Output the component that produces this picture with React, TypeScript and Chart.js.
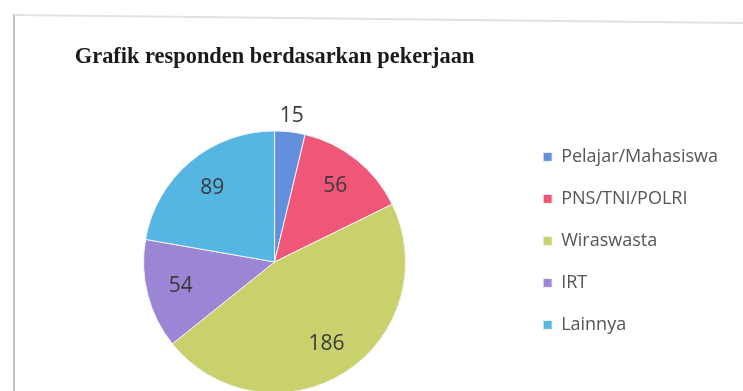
import React, { useEffect, useRef } from "react";
import { Chart, registerables } from "chart.js";

Chart.register(...registerables);

const titleText = "Grafik responden berdasarkan pekerjaan";
const categories = ["Pelajar/Mahasiswa", "PNS/TNI/POLRI", "Wiraswasta", "IRT", "Lainnya"];
const counts = [15, 56, 186, 54, 89];
const sliceColors = ["#6390dc", "#f05677", "#c8d16b", "#9b86d6", "#55b6e3"];

const framePlugin = {
  id: "frame",
  beforeDraw(chart: any) {
    const ctx = chart.ctx;
    ctx.save();
    ctx.fillStyle = "#ffffff";
    ctx.fillRect(0, 0, chart.width, chart.height);
    ctx.strokeStyle = "#c4c4c4";
    ctx.lineWidth = 2;
    ctx.beginPath();
    ctx.moveTo(14, 14);
    ctx.lineTo(14, chart.height);
    ctx.stroke();
    ctx.strokeStyle = "#e2e2e2";
    ctx.beginPath();
    ctx.moveTo(14, 15);
    ctx.lineTo(chart.width, 23);
    ctx.stroke();
    ctx.restore();
  },
};

const valueLabelPlugin = {
  id: "valueLabels",
  afterDatasetsDraw(chart: any) {
    const ctx = chart.ctx;
    const meta = chart.getDatasetMeta(0);
    const data = chart.data.datasets[0].data as number[];
    ctx.save();
    ctx.font = "21px 'Open Sans'";
    ctx.fillStyle = "#3a3a3a";
    ctx.textAlign = "center";
    ctx.textBaseline = "middle";
    meta.data.forEach((arc: any, i: number) => {
      const { x, y, startAngle, endAngle, outerRadius } = arc.getProps(
        ["x", "y", "startAngle", "endAngle", "outerRadius"],
        true
      );
      const mid = (startAngle + endAngle) / 2;
      const span = endAngle - startAngle;
      const r = span < 0.35 ? outerRadius + 16 : outerRadius * 0.74;
      ctx.fillText(String(data[i]), x + Math.cos(mid) * r, y + Math.sin(mid) * r);
    });
    ctx.restore();
  },
};

export default function App() {
  const canvasRef = useRef<HTMLCanvasElement | null>(null);

  useEffect(() => {
    if (!canvasRef.current) return;
    const chart = new Chart(canvasRef.current, {
      type: "pie",
      data: {
        labels: categories,
        datasets: [
          {
            data: counts,
            backgroundColor: sliceColors,
            borderColor: "#f4f4f4",
            borderWidth: 1,
            radius: 131,
          },
        ],
      },
      options: {
        responsive: false,
        animation: false,
        layout: { padding: { left: 30, right: 15, top: 0, bottom: 0 } },
        plugins: {
          title: {
            display: true,
            text: titleText,
            fullSize: false,
            align: "center",
            color: "#1a1a1a",
            font: { family: "'Liberation Serif'", size: 22.4, weight: "bold", lineHeight: 1.2 },
            padding: { top: 44, bottom: 53 },
          },
          legend: {
            display: true,
            position: "right",
            align: "start",
            fullSize: false,
            labels: {
              boxWidth: 9,
              boxHeight: 9,
              padding: 24,
              color: "#555555",
              font: { family: "'Open Sans'", size: 18 },
            },
          },
          tooltip: { enabled: false },
        },
      },
      plugins: [framePlugin, valueLabelPlugin],
    });
    return () => chart.destroy();
  }, []);

  return (
    <div
      style={{
        position: "fixed",
        top: 0,
        left: 0,
        width: 743,
        height: 391,
        overflow: "hidden",
        background: "#ffffff",
      }}
    >
      <canvas ref={canvasRef} width={743} height={400} style={{ width: 743, height: 400, display: "block" }} />
    </div>
  );
}
